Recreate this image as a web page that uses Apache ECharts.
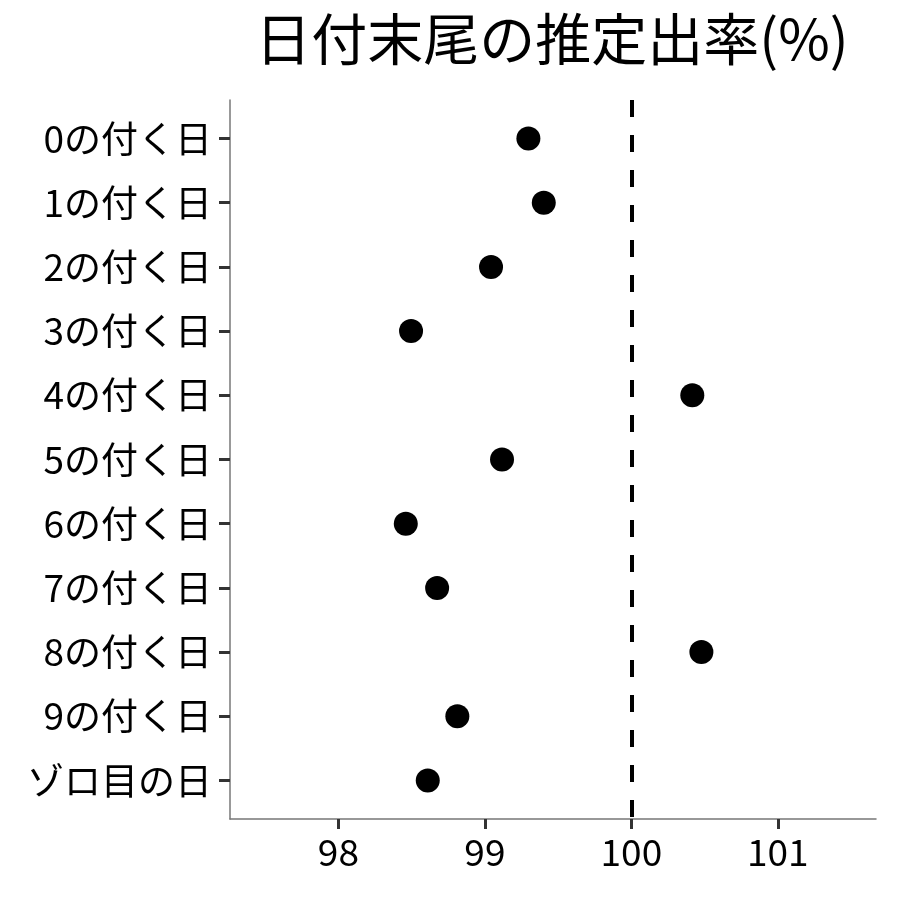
<!DOCTYPE html>
<html>
<head>
<meta charset="utf-8">
<script src="https://cdn.jsdelivr.net/npm/echarts@6/dist/echarts.min.js"></script>
<style>
  html, body { margin: 0; padding: 0; background: #fff; }
  #chart { width: 900px; height: 900px; }
</style>
</head>
<body>
<div id="chart"></div>
<script>
const categories = ["0の付く日", "1の付く日", "2の付く日", "3の付く日", "4の付く日", "5の付く日",
  "6の付く日", "7の付く日", "8の付く日", "9の付く日", "ゾロ目の日"];
const rates = [99.297, 99.402, 99.042, 98.496, 100.416, 99.117, 98.46, 98.674, 100.478, 98.812, 98.61];
const xTicks = [98, 99, 100, 101];
const refLine = 100;

const font = "Noto Sans CJK JP";
const chart = echarts.init(document.getElementById("chart"));
const yTicks = categories.map((c, i) => i);

chart.setOption({
  animation: false,
  textStyle: { fontFamily: font },
  title: {
    text: "日付末尾の推定出率(%)",
    left: 547, top: 6, textAlign: "center",
    textStyle: { fontFamily: font, fontSize: 56, fontWeight: "normal", color: "#000" }
  },
  grid: { left: 230, right: 24, top: 100, bottom: 81 },
  xAxis: {
    type: "value", min: 97.26, max: 101.67,
    splitLine: { show: false },
    axisLine: { onZero: false, lineStyle: { color: "#777", width: 1.5 } },
    axisTick: { customValues: xTicks, length: 10, lineStyle: { color: "#333", width: 3 } },
    axisLabel: { customValues: xTicks, margin: 14, fontSize: 37, color: "#000", fontFamily: font }
  },
  yAxis: {
    type: "value", min: -0.6, max: 10.6, inverse: true,
    splitLine: { show: false },
    axisLine: { show: true, onZero: false, lineStyle: { color: "#777", width: 1.5 } },
    axisTick: { show: true, customValues: yTicks, length: 11, lineStyle: { color: "#333", width: 3 } },
    axisLabel: {
      customValues: yTicks, margin: 18, fontSize: 37, color: "#000", fontFamily: font,
      formatter: v => categories[Math.round(v)]
    }
  },
  series: [{
    type: "scatter",
    symbolSize: 24,
    itemStyle: { color: "#000", opacity: 1 },
    data: rates.map((v, i) => [v, i]),
    markLine: {
      silent: true,
      symbol: "none",
      label: { show: false },
      lineStyle: { color: "#000", width: 4, type: [17, 18] },
      data: [{ xAxis: refLine }]
    }
  }]
});
</script>
</body>
</html>
